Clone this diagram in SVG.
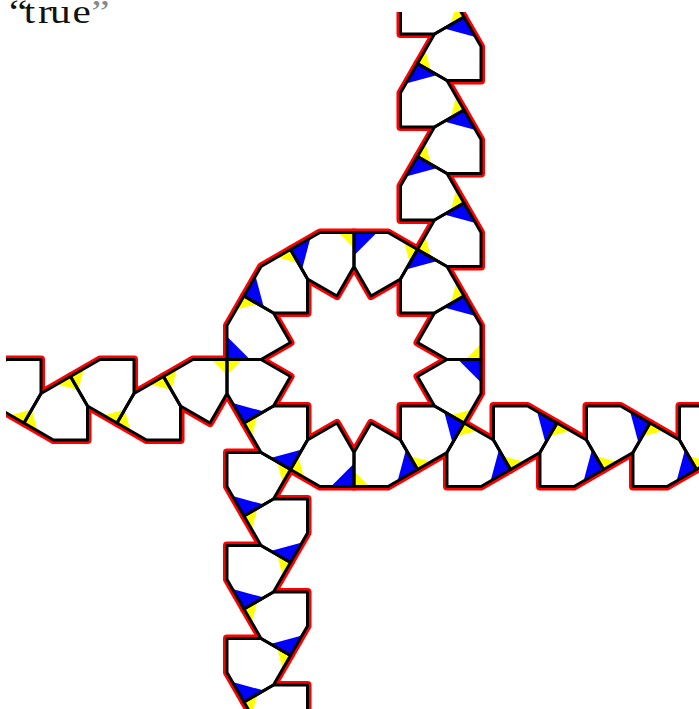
<svg xmlns="http://www.w3.org/2000/svg" width="699" height="709" viewBox="0 0 699 709">
<style>
.r{fill:none;stroke:#f00;stroke-width:8;stroke-linejoin:round}
.w{fill:#fff;stroke:none}
.k{fill:none;stroke:#000;stroke-width:3;stroke-linejoin:round}
.t{font-family:"Liberation Serif",serif;font-size:33px;fill:#111}
</style>
<defs>
<clipPath id="c"><rect x="6" y="12" width="693" height="697"/></clipPath>
<path id="h" d="M0 0V34.03L-17.01 63.5L-46.5 46.5L-63.5 17.01L-34.03 0Z"/>
<polygon id="y" points="0,0 -15.5,0 0,15.5" fill="#ff0"/>
<polygon id="b" points="0,0 -23,0 0,23" fill="#00f"/>
<g id="tiles">
<use href="#h" transform="translate(354 232.5)"/>
<use href="#h" transform="translate(290.5 249.5) rotate(-30)"/>
<use href="#h" transform="translate(244 296) rotate(-60)"/>
<use href="#h" transform="translate(227 359.5) rotate(-90)"/>
<use href="#h" transform="translate(244 423) rotate(-120)"/>
<use href="#h" transform="translate(290.5 469.5) rotate(-150)"/>
<use href="#h" transform="translate(354 486.5) rotate(-180)"/>
<use href="#h" transform="translate(417.5 469.5) rotate(-210)"/>
<use href="#h" transform="translate(464 423) rotate(-240)"/>
<use href="#h" transform="translate(481 359.5) rotate(-270)"/>
<use href="#h" transform="translate(464 296) rotate(-300)"/>
<use href="#h" transform="translate(417.5 249.5) rotate(-330)"/>
<!-- top arm -->
<use href="#h" transform="translate(464 203) rotate(-30)"/>
<use href="#h" transform="translate(464 203) rotate(-300)"/>
<use href="#h" transform="translate(464 110) rotate(-30)"/>
<use href="#h" transform="translate(464 110) rotate(-300)"/>
<use href="#h" transform="translate(464 17) rotate(-30)"/>
<use href="#h" transform="translate(464 17) rotate(-300)"/>
<!-- right arm -->
<use href="#h" transform="translate(510.5 469.5) rotate(-300)"/>
<use href="#h" transform="translate(510.5 469.5) rotate(-210)"/>
<use href="#h" transform="translate(603.5 469.5) rotate(-300)"/>
<use href="#h" transform="translate(603.5 469.5) rotate(-210)"/>
<use href="#h" transform="translate(696.5 469.5) rotate(-300)"/>
<use href="#h" transform="translate(696.5 469.5) rotate(-210)"/>
<!-- bottom arm -->
<use href="#h" transform="translate(244 516) rotate(-210)"/>
<use href="#h" transform="translate(244 516) rotate(-120)"/>
<use href="#h" transform="translate(244 609) rotate(-210)"/>
<use href="#h" transform="translate(244 609) rotate(-120)"/>
<use href="#h" transform="translate(244 702) rotate(-210)"/>
<use href="#h" transform="translate(244 702) rotate(-120)"/>
<!-- left arm -->
<use href="#h" transform="translate(227 359.5)"/>
<use href="#h" transform="translate(163.5 376.5) rotate(-30)"/>
<use href="#h" transform="translate(134 359.5)"/>
<use href="#h" transform="translate(70.5 376.5) rotate(-30)"/>
<use href="#h" transform="translate(41 359.5)"/>
</g>
</defs>
<g id="pattern" clip-path="url(#c)">
<use href="#tiles" class="r"/>
<use href="#tiles" class="w"/>
<g id="yellow">
<use href="#y" transform="translate(354 232.5)"/>
<use href="#y" transform="translate(290.5 249.5) rotate(-30)"/>
<use href="#y" transform="translate(244 296) rotate(-60)"/>
<use href="#y" transform="translate(227 359.5) rotate(-90)"/>
<use href="#y" transform="translate(244 423) rotate(-120)"/>
<use href="#y" transform="translate(290.5 469.5) rotate(-150)"/>
<use href="#y" transform="translate(354 486.5) rotate(-180)"/>
<use href="#y" transform="translate(417.5 469.5) rotate(-210)"/>
<use href="#y" transform="translate(464 423) rotate(-240)"/>
<use href="#y" transform="translate(481 359.5) rotate(-270)"/>
<use href="#y" transform="translate(464 296) rotate(-300)"/>
<use href="#y" transform="translate(417.5 249.5) rotate(-330)"/>
<use href="#y" transform="translate(417.5 249.5) rotate(-150)"/>
<use href="#y" transform="translate(464 203) rotate(-300)"/>
<use href="#y" transform="translate(417.5 156.5) rotate(-150)"/>
<use href="#y" transform="translate(464 110) rotate(-300)"/>
<use href="#y" transform="translate(417.5 63.5) rotate(-150)"/>
<use href="#y" transform="translate(464 17) rotate(-300)"/>
<use href="#y" transform="translate(464 423) rotate(-60)"/>
<use href="#y" transform="translate(510.5 469.5) rotate(-210)"/>
<use href="#y" transform="translate(557 423) rotate(-60)"/>
<use href="#y" transform="translate(603.5 469.5) rotate(-210)"/>
<use href="#y" transform="translate(650 423) rotate(-60)"/>
<use href="#y" transform="translate(696.5 469.5) rotate(-210)"/>
<use href="#y" transform="translate(290.5 469.5) rotate(-330)"/>
<use href="#y" transform="translate(244 516) rotate(-120)"/>
<use href="#y" transform="translate(290.5 562.5) rotate(-330)"/>
<use href="#y" transform="translate(244 609) rotate(-120)"/>
<use href="#y" transform="translate(290.5 655.5) rotate(-330)"/>
<use href="#y" transform="translate(244 702) rotate(-120)"/>
<use href="#y" transform="translate(227 359.5)"/>
<use href="#y" transform="translate(163.5 376.5) rotate(-120)"/>
<use href="#y" transform="translate(163.5 376.5) rotate(-30)"/>
<use href="#y" transform="translate(117 423) rotate(-150)"/>
<use href="#y" transform="translate(117 423) rotate(-240)"/>
<use href="#y" transform="translate(70.5 376.5) rotate(-120)"/>
<use href="#y" transform="translate(70.5 376.5) rotate(-30)"/>
<use href="#y" transform="translate(24 423) rotate(-150)"/>
<use href="#y" transform="translate(24 423) rotate(-240)"/>
</g>
<g id="blue">
<use href="#b" transform="translate(290.5 249.5) rotate(-120)"/>
<use href="#b" transform="translate(244 296) rotate(-150)"/>
<use href="#b" transform="translate(227 359.5) rotate(-180)"/>
<use href="#b" transform="translate(244 423) rotate(-210)"/>
<use href="#b" transform="translate(290.5 469.5) rotate(-240)"/>
<use href="#b" transform="translate(354 486.5) rotate(-270)"/>
<use href="#b" transform="translate(417.5 469.5) rotate(-300)"/>
<use href="#b" transform="translate(464 423) rotate(-330)"/>
<use href="#b" transform="translate(481 359.5)"/>
<use href="#b" transform="translate(464 296) rotate(-30)"/>
<use href="#b" transform="translate(417.5 249.5) rotate(-60)"/>
<use href="#b" transform="translate(354 232.5) rotate(-90)"/>
<use href="#b" transform="translate(464 203) rotate(-30)"/>
<use href="#b" transform="translate(417.5 156.5) rotate(-60)"/>
<use href="#b" transform="translate(464 110) rotate(-30)"/>
<use href="#b" transform="translate(417.5 63.5) rotate(-60)"/>
<use href="#b" transform="translate(464 17) rotate(-30)"/>
<use href="#b" transform="translate(510.5 469.5) rotate(-300)"/>
<use href="#b" transform="translate(557 423) rotate(-330)"/>
<use href="#b" transform="translate(603.5 469.5) rotate(-300)"/>
<use href="#b" transform="translate(650 423) rotate(-330)"/>
<use href="#b" transform="translate(696.5 469.5) rotate(-300)"/>
<use href="#b" transform="translate(244 516) rotate(-210)"/>
<use href="#b" transform="translate(290.5 562.5) rotate(-240)"/>
<use href="#b" transform="translate(244 609) rotate(-210)"/>
<use href="#b" transform="translate(290.5 655.5) rotate(-240)"/>
<use href="#b" transform="translate(244 702) rotate(-210)"/>
</g>
<use href="#tiles" class="k"/>
</g>
<text class="t" transform="scale(1.25 1)" x="7.2 19 30.5 40 58 73" y="22.5">“true<tspan fill="#888">”</tspan></text>
</svg>
